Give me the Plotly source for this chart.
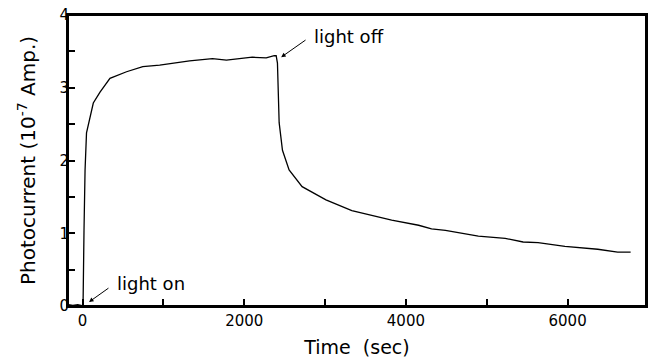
import plotly.graph_objects as go

# Time (sec) and photocurrent (10^-7 A)
time_s = [-175, -120, -60, 0, 6, 18, 31, 49, 92, 133, 216, 339, 544, 745, 954,
          1324, 1607, 1780, 2100, 2272, 2371, 2395, 2411, 2432, 2473, 2555,
          2716, 3011, 3331, 3824, 4157, 4317, 4489, 4588, 4896, 5228, 5450,
          5635, 5967, 6373, 6619, 6780]
current = [0.02, 0.01, 0.02, 0.01, 0.0, 1.04, 1.87, 2.38, 2.60, 2.79, 2.94,
           3.13, 3.22, 3.29, 3.31, 3.37, 3.40, 3.38, 3.42, 3.41, 3.44, 3.44,
           3.34, 2.52, 2.14, 1.87, 1.64, 1.46, 1.31, 1.18, 1.11, 1.06, 1.04,
           1.02, 0.96, 0.93, 0.88, 0.87, 0.82, 0.78, 0.74, 0.74]

x_ticks = [0, 2000, 4000, 6000]
y_ticks = [0, 1, 2, 3, 4]

FONT = "DejaVu Sans"

fig = go.Figure()
fig.add_trace(go.Scatter(x=time_s, y=current, mode="lines",
                         line=dict(color="black", width=1.3),
                         showlegend=False, hoverinfo="skip"))

# arrows
fig.add_annotation(x=2457, y=3.42, ax=2777, ay=3.67, xref="x", yref="y",
                   axref="x", ayref="y", text="", showarrow=True,
                   arrowhead=2, arrowsize=0.9, arrowwidth=1, arrowcolor="black")
fig.add_annotation(x=80, y=0.055, ax=339, ay=0.26, xref="x", yref="y",
                   axref="x", ayref="y", text="", showarrow=True,
                   arrowhead=2, arrowsize=0.9, arrowwidth=1, arrowcolor="black")
# labels
fig.add_annotation(x=2839, y=3.70, text="light off", showarrow=False,
                   xanchor="left", yanchor="middle",
                   font=dict(family=FONT, size=18, color="black"))
fig.add_annotation(x=400, y=0.316, text="light on", showarrow=False,
                   xanchor="left", yanchor="middle",
                   font=dict(family=FONT, size=18, color="black"))

# plot frame
fig.add_shape(type="rect", xref="paper", yref="paper", x0=0, y0=0, x1=1, y1=1,
              line=dict(color="black", width=2), fillcolor="rgba(0,0,0,0)",
              layer="above")

axis_common = dict(showline=True, linecolor="black", linewidth=2, mirror=True,
                   showgrid=False, zeroline=False, ticks="inside", ticklen=7,
                   tickwidth=1.5, tickcolor="black",
                   tickfont=dict(family=FONT, size=15, color="black"))

fig.update_xaxes(range=[-180, 6970], tickvals=x_ticks,
                 ticktext=[str(v) for v in x_ticks],
                 minor=dict(dtick=1000, tick0=0, ticks="inside", ticklen=7,
                            tickwidth=1.5, tickcolor="black"),
                 title=dict(text="Time\u00a0 (sec)", standoff=12,
                            font=dict(family=FONT, size=19, color="black")),
                 **axis_common)
fig.update_yaxes(range=[0, 4], tickvals=y_ticks,
                 ticktext=[str(v) for v in y_ticks],
                 minor=dict(dtick=0.5, tick0=0, ticks="inside", ticklen=7,
                            tickwidth=1.5, tickcolor="black"),
                 ticklabelstandoff=-6,
                 title=dict(text="Photocurrent (10<sup>-7</sup> Amp.)", standoff=18,
                            font=dict(family=FONT, size=20, color="black")),
                 **axis_common)

fig.update_layout(width=651, height=362,
                  margin=dict(l=68, r=3, t=15, b=56),
                  paper_bgcolor="white", plot_bgcolor="white",
                  font=dict(family=FONT, color="black"))

fig.write_html("out.html")
